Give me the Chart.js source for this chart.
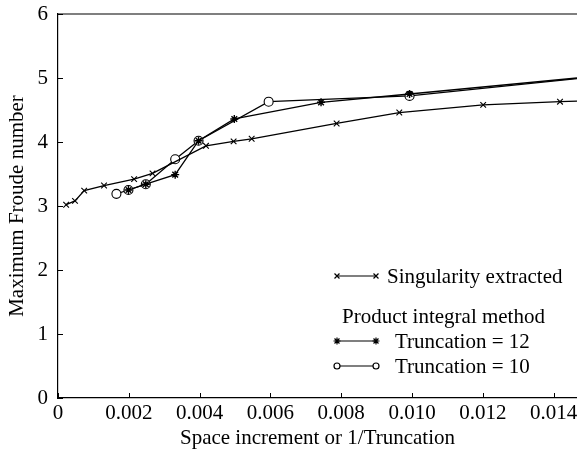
<!DOCTYPE html>
<html>
<head>
<meta charset="utf-8">
<script src="https://cdn.jsdelivr.net/npm/chart.js@4/dist/chart.umd.min.js"></script>
<style>
  html, body { margin: 0; padding: 0; background: #fff; }
  #wrap { width: 577px; height: 457px; }
</style>
</head>
<body>
<div id="wrap"><canvas id="chart-froude"></canvas></div>
<script>
// values
var singX = [0.00023, 0.00048, 0.00074, 0.0013, 0.00215, 0.00267, 0.00418, 0.00496, 0.00547, 0.00787, 0.00964, 0.01201, 0.01418, 0.01466];
var singY = [3.02, 3.08, 3.24, 3.32, 3.42, 3.51, 3.94, 4.01, 4.05, 4.29, 4.46, 4.58, 4.63, 4.64];

var trunc12X = [0.00199, 0.00248, 0.00331, 0.00397, 0.00498, 0.00743, 0.00993, 0.01466];
var trunc12Y = [3.25, 3.34, 3.49, 4.02, 4.36, 4.62, 4.75, 5.0];

var trunc10X = [0.00165, 0.00199, 0.00248, 0.00331, 0.00397, 0.00595, 0.00993, 0.01466];
var trunc10Y = [3.19, 3.25, 3.34, 3.73, 4.02, 4.63, 4.72, 4.99];

var xTicks = [0, 0.002, 0.004, 0.006, 0.008, 0.010, 0.012, 0.014];
var yTicks = [0, 1, 2, 3, 4, 5, 6];

var FONT = "'Liberation Serif', 'DejaVu Serif', serif";

function toPoints(xs, ys) {
    return xs.map(function(x, i) { return {x: x, y: ys[i]}; });
}
// the last value sits on the right frame edge, no marker there
function radii(xs, r) {
    return xs.map(function(x, i) { return i === xs.length - 1 ? 0 : r; });
}

// top frame line + inward tick marks + legend
var extras = {
    id: 'extras',
    afterDraw: function(chart) {
        var ctx = chart.ctx, a = chart.chartArea;
        var xs = chart.scales.x, ys = chart.scales.y;
        ctx.save();
        ctx.strokeStyle = '#000';
        ctx.lineWidth = 1.2;
        ctx.beginPath();
        ctx.moveTo(a.left, a.top);
        ctx.lineTo(a.right, a.top);
        ctx.stroke();
        ctx.lineWidth = 1;
        ctx.beginPath();
        xTicks.forEach(function(v) {
            var px = Math.round(xs.getPixelForValue(v)) + 0.5;
            ctx.moveTo(px, a.bottom);
            ctx.lineTo(px, a.bottom - 5);
        });
        yTicks.forEach(function(v) {
            var py = Math.round(ys.getPixelForValue(v)) + 0.5;
            ctx.moveTo(a.left, py);
            ctx.lineTo(a.left + 5, py);
        });
        ctx.stroke();

        // legend
        ctx.font = '21px ' + FONT;
        ctx.fillStyle = '#000';
        ctx.textBaseline = 'middle';
        var rows = [
            {ds: 0, y: 276, text: 'Singularity extracted', tx: 387},
            {ds: 1, y: 341, text: 'Truncation = 12', tx: 395},
            {ds: 2, y: 366, text: 'Truncation = 10', tx: 395}
        ];
        rows.forEach(function(r) {
            var d = chart.data.datasets[r.ds];
            ctx.lineWidth = 1.2;
            ctx.strokeStyle = '#000';
            ctx.beginPath();
            ctx.moveTo(337, r.y);
            ctx.lineTo(376, r.y);
            ctx.stroke();
            [337, 376].forEach(function(px) {
                if (d.pointStyle === 'circle') {
                    ctx.fillStyle = '#fff';
                    ctx.beginPath(); ctx.arc(px, r.y, 3, 0, Math.PI * 2); ctx.fill(); ctx.stroke();
                    ctx.fillStyle = '#000';
                } else {
                    Chart.helpers.drawPoint(ctx, {pointStyle: d.pointStyle, radius: 3.5, borderWidth: 1, rotation: 0}, px, r.y);
                }
            });
            ctx.fillText(r.text, r.tx, r.y + 1);
        });
        ctx.fillText('Product integral method', 342, 317);
        ctx.restore();
    }
};

new Chart(document.getElementById('chart-froude'), {
    type: 'scatter',
    data: {
        datasets: [{
            label: 'Singularity extracted',
            data: toPoints(singX, singY),
            showLine: true,
            borderColor: '#000',
            borderWidth: 1.3,
            pointStyle: 'crossRot',
            pointRadius: radii(singX, 4),
            pointBorderColor: '#000',
            pointBorderWidth: 1.1
        }, {
            label: 'Truncation = 12',
            data: toPoints(trunc12X, trunc12Y),
            showLine: true,
            borderColor: '#000',
            borderWidth: 1.3,
            pointStyle: 'star',
            pointRadius: radii(trunc12X, 4),
            pointBorderColor: '#000',
            pointBorderWidth: 1.4
        }, {
            label: 'Truncation = 10',
            data: toPoints(trunc10X, trunc10Y),
            showLine: true,
            borderColor: '#000',
            borderWidth: 1.3,
            pointStyle: 'circle',
            pointRadius: radii(trunc10X, 4.5),
            pointBackgroundColor: '#fff',
            pointBorderColor: '#000',
            pointBorderWidth: 1.1
        }]
    },
    options: {
        responsive: true,
        maintainAspectRatio: false,
        animation: false,
        layout: { autoPadding: false, padding: { top: 14, right: 0, left: 0, bottom: 0 } },
        plugins: {
            legend: { display: false },
            tooltip: { enabled: false }
        },
        scales: {
            x: {
                type: 'linear',
                min: 0,
                max: 0.01466,
                afterBuildTicks: function(s) { s.ticks = xTicks.map(function(v) { return {value: v}; }); },
                afterFit: function(s) { s.height = 59; s.paddingRight = 0; s.paddingLeft = 0; },
                grid: { drawOnChartArea: false, drawTicks: false },
                border: { display: true, color: '#000', width: 1.2 },
                ticks: {
                    color: '#000',
                    padding: 3,
                    maxRotation: 0,
                    autoSkip: false,
                    font: { family: FONT, size: 21 },
                    callback: function(v) { return v === 0 ? '0' : v.toFixed(3); }
                },
                title: {
                    display: true,
                    text: 'Space increment or 1/Truncation',
                    color: '#000',
                    padding: { top: 0, bottom: 6 },
                    font: { family: FONT, size: 21 }
                }
            },
            y: {
                type: 'linear',
                min: 0,
                max: 6,
                afterBuildTicks: function(s) { s.ticks = yTicks.map(function(v) { return {value: v}; }); },
                afterFit: function(s) { s.width = 58; s.paddingTop = 0; s.paddingBottom = 0; },
                grid: { drawOnChartArea: false, drawTicks: false },
                border: { display: true, color: '#000', width: 1.2 },
                ticks: {
                    color: '#000',
                    padding: 10,
                    font: { family: FONT, size: 21 }
                },
                title: {
                    display: true,
                    text: 'Maximum Froude number',
                    color: '#000',
                    padding: { top: 5, bottom: 0 },
                    font: { family: FONT, size: 21 }
                }
            }
        }
    },
    plugins: [extras]
});
</script>
</body>
</html>
